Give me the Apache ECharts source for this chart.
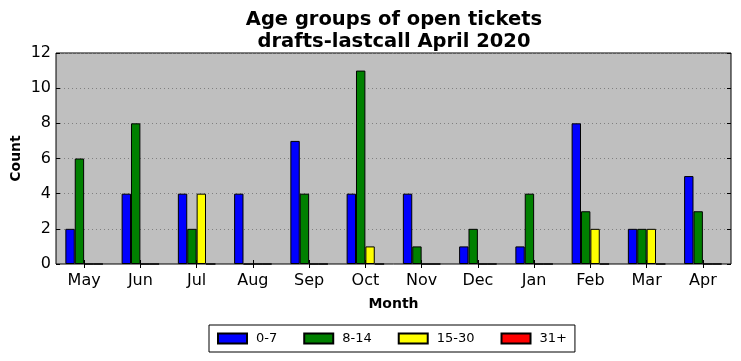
<!DOCTYPE html>
<html><head><meta charset="utf-8">
<script src="https://cdn.jsdelivr.net/npm/echarts@6/dist/echarts.min.js"></script>
<style>html,body{margin:0;padding:0;background:#fff}#c{width:741px;height:361px}</style>
</head><body><div id="c"></div>
<script>
const months = ['May','Jun','Jul','Aug','Sep','Oct','Nov','Dec','Jan','Feb','Mar','Apr'];
const s0_7   = [2,4,4,4,7,4,4,1,1,8,2,5];
const s8_14  = [6,8,2,0,4,11,1,2,4,3,2,3];
const s15_30 = [0,0,4,0,0,1,0,0,0,2,2,0];
const s31    = [0,0,0,0,0,0,0,0,0,0,0,0];
const seriesNames = ['0-7','8-14','15-30','31+'];
const colors = ['#0000ff','#008000','#ffff00','#ff0000'];
const yTicks = [0,2,4,6,8,10,12];

const F = 'DejaVu Sans';
const chart = echarts.init(document.getElementById('c'));
const data = [s0_7, s8_14, s15_30, s31];
chart.setOption({
  animation: false,
  title: {
    text: 'Age groups of open tickets\ndrafts-lastcall April 2020',
    left: 389, textAlign: 'center', top: 4, itemGap: 0,
    textStyle: {fontFamily: F, fontSize: 19.5, fontWeight: 'bold', color: '#000', lineHeight: 22}
  },
  grid: {left: 56, right: 10, top: 53, bottom: 97, outerBoundsMode: 'none', containLabel: false,
         show: true, backgroundColor: '#bfbfbf', borderColor: '#000', borderWidth: 1},
  legend: {
    bottom: 9, left: 209,
    data: seriesNames,
    itemWidth: 29, itemHeight: 10, itemGap: 26,
    icon: 'rect',
    borderColor: '#000', borderWidth: 1, padding: [7, 8, 7, 8],
    textStyle: {fontFamily: F, fontSize: 13, color: '#000', padding: [0, 0, 0, 4]}
  },
  xAxis: [{
    type: 'category', data: months, position: 'bottom',
    name: 'Month', nameLocation: 'middle', nameGap: 33, nameMoveOverlap: false,
    nameTextStyle: {fontFamily: F, fontSize: 14, fontWeight: 'bold', color: '#000'},
    axisLine: {show: false},
    axisTick: {show: true, inside: true, alignWithLabel: true, length: 4, lineStyle: {color: '#000'}},
    axisLabel: {fontFamily: F, fontSize: 16, color: '#000', margin: 9},
    splitLine: {show: false}
  }, {
    type: 'category', data: months, position: 'top',
    axisLine: {show: false},
    axisTick: {show: true, inside: true, alignWithLabel: true, length: 4, lineStyle: {color: '#000'}},
    axisLabel: {show: false}
  }],
  yAxis: [{
    type: 'value', min: 0, max: 12, interval: 2,
    name: 'Count', nameLocation: 'middle', nameGap: 33, nameRotate: 90, nameMoveOverlap: false,
    nameTextStyle: {fontFamily: F, fontSize: 14, fontWeight: 'bold', color: '#000'},
    axisLine: {show: false},
    axisTick: {show: true, inside: true, length: 4, lineStyle: {color: '#000'}},
    axisLabel: {fontFamily: F, fontSize: 16, color: '#000', margin: 5},
    splitLine: {show: true, lineStyle: {color: '#808080', type: [1, 3], width: 1}}
  }, {
    type: 'value', min: 0, max: 12, interval: 2, position: 'right',
    axisLine: {show: false},
    axisTick: {show: true, inside: true, length: 4, lineStyle: {color: '#000'}},
    axisLabel: {show: false},
    splitLine: {show: false}
  }],
  series: seriesNames.map((n, i) => ({
    name: n, type: 'bar', data: data[i],
    barWidth: '16.67%', barGap: '0%',
    itemStyle: {color: colors[i], borderColor: '#000', borderWidth: 1},
    emphasis: {disabled: true}
  }))
});
</script></body></html>
